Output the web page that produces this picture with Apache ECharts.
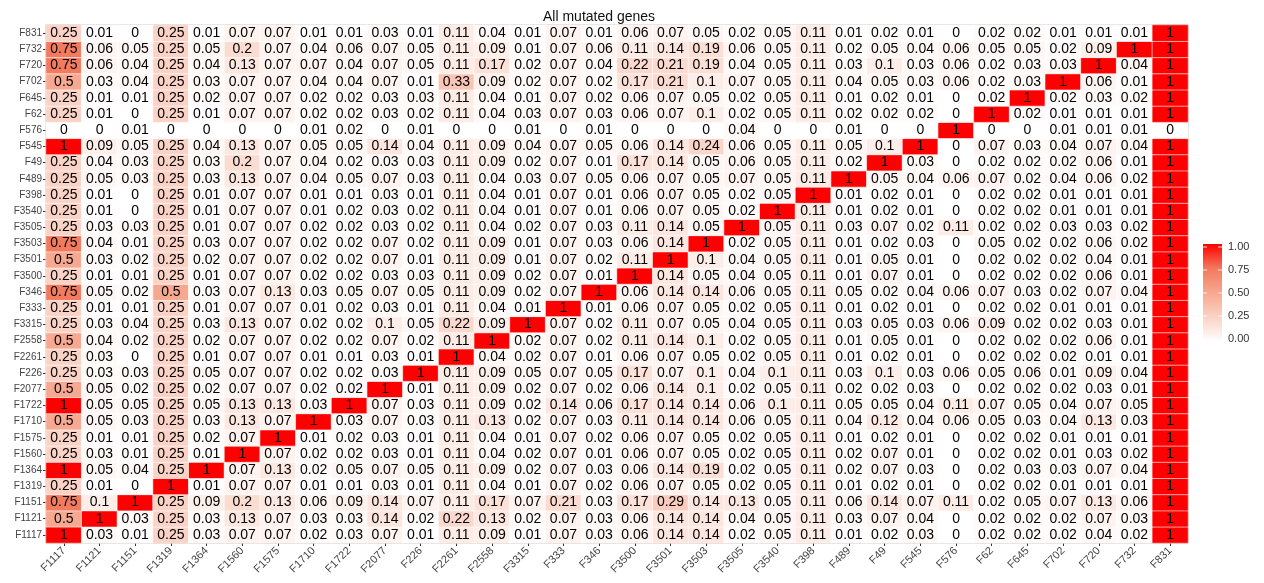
<!DOCTYPE html>
<html>
<head>
<meta charset="utf-8">
<script src="https://cdn.jsdelivr.net/npm/echarts@6/dist/echarts.min.js"></script>
<style>
html,body{margin:0;padding:0;background:#fff;}
#chart{width:1264px;height:583px;}
</style>
</head>
<body>
<div id="chart"></div>
<script>
// Column (x) categories, left to right
const xCats = ["F1117","F1121","F1151","F1319","F1364","F1560","F1575","F1710","F1722","F2077","F226","F2261","F2558","F3315","F333","F346","F3500","F3501","F3503","F3505","F3540","F398","F489","F49","F545","F576","F62","F645","F702","F720","F732","F831"];
// Row (y) categories, bottom to top
const yCats = xCats.slice();

// One array per row (values listed in xCats order)
const rowF831  = [0.25,0.01,0,0.25,0.01,0.07,0.07,0.01,0.01,0.03,0.01,0.11,0.04,0.01,0.07,0.01, 0.06,0.07,0.05,0.02,0.05,0.11,0.01,0.02,0.01,0,0.02,0.02,0.01,0.01,0.01,1];
const rowF732  = [0.75,0.06,0.05,0.25,0.05,0.2,0.07,0.04,0.06,0.07,0.05,0.11,0.09,0.01,0.07,0.06, 0.11,0.14,0.19,0.06,0.05,0.11,0.02,0.05,0.04,0.06,0.05,0.05,0.02,0.09,1,1];
const rowF720  = [0.75,0.06,0.04,0.25,0.04,0.13,0.07,0.07,0.04,0.07,0.05,0.11,0.17,0.02,0.07,0.04, 0.22,0.21,0.19,0.04,0.05,0.11,0.03,0.1,0.03,0.06,0.02,0.03,0.03,1,0.04,1];
const rowF702  = [0.5,0.03,0.04,0.25,0.03,0.07,0.07,0.04,0.04,0.07,0.01,0.33,0.09,0.02,0.07,0.02, 0.17,0.21,0.1,0.07,0.05,0.11,0.04,0.05,0.03,0.06,0.02,0.03,1,0.06,0.01,1];
const rowF645  = [0.25,0.01,0.01,0.25,0.02,0.07,0.07,0.02,0.02,0.03,0.03,0.11,0.04,0.01,0.07,0.02, 0.06,0.07,0.05,0.02,0.05,0.11,0.01,0.02,0.01,0,0.02,1,0.02,0.03,0.02,1];
const rowF62   = [0.25,0.01,0,0.25,0.01,0.07,0.07,0.02,0.02,0.03,0.02,0.11,0.04,0.03,0.07,0.03, 0.06,0.07,0.1,0.02,0.05,0.11,0.02,0.02,0.02,0,1,0.02,0.01,0.01,0.01,1];
const rowF576  = [0,0,0.01,0,0,0,0,0.01,0.02,0,0.01,0,0,0.01,0,0.01, 0,0,0,0.04,0,0,0.01,0,0,1,0,0,0.01,0.01,0.01,0];
const rowF545  = [1,0.09,0.05,0.25,0.04,0.13,0.07,0.05,0.05,0.14,0.04,0.11,0.09,0.04,0.07,0.05, 0.06,0.14,0.24,0.06,0.05,0.11,0.05,0.1,1,0,0.07,0.03,0.04,0.07,0.04,1];
const rowF49   = [0.25,0.04,0.03,0.25,0.03,0.2,0.07,0.04,0.02,0.03,0.03,0.11,0.09,0.02,0.07,0.01, 0.17,0.14,0.05,0.06,0.05,0.11,0.02,1,0.03,0,0.02,0.02,0.02,0.06,0.01,1];
const rowF489  = [0.25,0.05,0.03,0.25,0.03,0.13,0.07,0.04,0.05,0.07,0.03,0.11,0.04,0.03,0.07,0.05, 0.06,0.07,0.05,0.07,0.05,0.11,1,0.05,0.04,0.06,0.07,0.02,0.04,0.06,0.02,1];
const rowF398  = [0.25,0.01,0,0.25,0.01,0.07,0.07,0.01,0.01,0.03,0.01,0.11,0.04,0.01,0.07,0.01, 0.06,0.07,0.05,0.02,0.05,1,0.01,0.02,0.01,0,0.02,0.02,0.01,0.01,0.01,1];
const rowF3540 = [0.25,0.01,0,0.25,0.01,0.07,0.07,0.01,0.02,0.03,0.02,0.11,0.04,0.01,0.07,0.01, 0.06,0.07,0.05,0.02,1,0.11,0.01,0.02,0.01,0,0.02,0.02,0.01,0.01,0.01,1];
const rowF3505 = [0.25,0.03,0.03,0.25,0.01,0.07,0.07,0.02,0.02,0.03,0.02,0.11,0.04,0.02,0.07,0.03, 0.11,0.14,0.05,1,0.05,0.11,0.03,0.07,0.02,0.11,0.02,0.02,0.03,0.03,0.02,1];
const rowF3503 = [0.75,0.04,0.01,0.25,0.03,0.07,0.07,0.02,0.02,0.07,0.02,0.11,0.09,0.01,0.07,0.03, 0.06,0.14,1,0.02,0.05,0.11,0.01,0.02,0.03,0,0.05,0.02,0.02,0.06,0.02,1];
const rowF3501 = [0.5,0.03,0.02,0.25,0.02,0.07,0.07,0.02,0.02,0.07,0.01,0.11,0.09,0.01,0.07,0.02, 0.11,1,0.1,0.04,0.05,0.11,0.01,0.05,0.01,0,0.02,0.02,0.02,0.04,0.01,1];
const rowF3500 = [0.25,0.01,0.01,0.25,0.01,0.07,0.07,0.02,0.02,0.03,0.03,0.11,0.09,0.02,0.07,0.01, 1,0.14,0.05,0.04,0.05,0.11,0.01,0.07,0.01,0,0.02,0.02,0.02,0.06,0.01,1];
const rowF346  = [0.75,0.05,0.02,0.5,0.03,0.07,0.13,0.03,0.05,0.07,0.05,0.11,0.09,0.02,0.07,1, 0.06,0.14,0.14,0.06,0.05,0.11,0.05,0.02,0.04,0.06,0.07,0.03,0.02,0.07,0.04,1];
const rowF333  = [0.25,0.01,0.01,0.25,0.01,0.07,0.07,0.01,0.02,0.03,0.01,0.11,0.04,0.01,1,0.01, 0.06,0.07,0.05,0.02,0.05,0.11,0.01,0.02,0.01,0,0.02,0.02,0.01,0.01,0.01,1];
const rowF3315 = [0.25,0.03,0.04,0.25,0.03,0.13,0.07,0.02,0.02,0.1,0.05,0.22,0.09,1,0.07,0.02, 0.11,0.07,0.05,0.04,0.05,0.11,0.03,0.05,0.03,0.06,0.09,0.02,0.02,0.03,0.01,1];
const rowF2558 = [0.5,0.04,0.02,0.25,0.02,0.07,0.07,0.02,0.02,0.07,0.02,0.11,1,0.02,0.07,0.02, 0.11,0.14,0.1,0.02,0.05,0.11,0.01,0.05,0.01,0,0.02,0.02,0.02,0.06,0.01,1];
const rowF2261 = [0.25,0.03,0,0.25,0.01,0.07,0.07,0.01,0.01,0.03,0.01,1,0.04,0.02,0.07,0.01, 0.06,0.07,0.05,0.02,0.05,0.11,0.01,0.02,0.01,0,0.02,0.02,0.02,0.01,0.01,1];
const rowF226  = [0.25,0.03,0.03,0.25,0.05,0.07,0.07,0.02,0.02,0.03,1,0.11,0.09,0.05,0.07,0.05, 0.17,0.07,0.1,0.04,0.1,0.11,0.03,0.1,0.03,0.06,0.05,0.06,0.01,0.09,0.04,1];
const rowF2077 = [0.5,0.05,0.02,0.25,0.02,0.07,0.07,0.02,0.02,1,0.01,0.11,0.09,0.02,0.07,0.02, 0.06,0.14,0.1,0.02,0.05,0.11,0.02,0.02,0.03,0,0.02,0.02,0.02,0.03,0.01,1];
const rowF1722 = [1,0.05,0.05,0.25,0.05,0.13,0.13,0.03,1,0.07,0.03,0.11,0.09,0.02,0.14,0.06, 0.17,0.14,0.14,0.06,0.1,0.11,0.05,0.05,0.04,0.11,0.07,0.05,0.04,0.07,0.05,1];
const rowF1710 = [0.5,0.05,0.03,0.25,0.03,0.13,0.07,1,0.03,0.07,0.03,0.11,0.13,0.02,0.07,0.03, 0.11,0.14,0.14,0.06,0.05,0.11,0.04,0.12,0.04,0.06,0.05,0.03,0.04,0.13,0.03,1];
const rowF1575 = [0.25,0.01,0.01,0.25,0.02,0.07,1,0.01,0.02,0.03,0.01,0.11,0.04,0.01,0.07,0.02, 0.06,0.07,0.05,0.02,0.05,0.11,0.01,0.02,0.01,0,0.02,0.02,0.01,0.01,0.01,1];
const rowF1560 = [0.25,0.03,0.01,0.25,0.01,1,0.07,0.02,0.02,0.03,0.01,0.11,0.04,0.02,0.07,0.01, 0.06,0.07,0.05,0.02,0.05,0.11,0.02,0.07,0.01,0,0.02,0.02,0.01,0.03,0.02,1];
const rowF1364 = [1,0.05,0.04,0.25,1,0.07,0.13,0.02,0.05,0.07,0.05,0.11,0.09,0.02,0.07,0.03, 0.06,0.14,0.19,0.02,0.05,0.11,0.02,0.07,0.03,0,0.02,0.03,0.03,0.07,0.04,1];
const rowF1319 = [0.25,0.01,0,1,0.01,0.07,0.07,0.01,0.01,0.03,0.01,0.11,0.04,0.01,0.07,0.02, 0.06,0.07,0.05,0.02,0.05,0.11,0.01,0.02,0.01,0,0.02,0.02,0.01,0.01,0.01,1];
const rowF1151 = [0.75,0.1,1,0.25,0.09,0.2,0.13,0.06,0.09,0.14,0.07,0.11,0.17,0.07,0.21,0.03, 0.17,0.29,0.14,0.13,0.05,0.11,0.06,0.14,0.07,0.11,0.02,0.05,0.07,0.13,0.06,1];
const rowF1121 = [0.5,1,0.03,0.25,0.03,0.13,0.07,0.03,0.03,0.14,0.02,0.22,0.13,0.02,0.07,0.03, 0.06,0.14,0.14,0.04,0.05,0.11,0.03,0.07,0.04,0,0.02,0.02,0.02,0.07,0.03,1];
const rowF1117 = [1,0.03,0.01,0.25,0.03,0.07,0.07,0.02,0.03,0.07,0.01,0.11,0.09,0.01,0.07,0.03, 0.06,0.14,0.14,0.02,0.05,0.11,0.01,0.02,0.03,0,0.02,0.02,0.02,0.04,0.02,1];

// Rows in yCats order (bottom to top)
const rowList = [rowF1117,rowF1121,rowF1151,rowF1319,rowF1364,rowF1560,rowF1575,rowF1710,rowF1722,rowF2077,rowF226,rowF2261,rowF2558,rowF3315,rowF333,rowF346,rowF3500,rowF3501,rowF3503,rowF3505,rowF3540,rowF398,rowF489,rowF49,rowF545,rowF576,rowF62,rowF645,rowF702,rowF720,rowF732,rowF831];

const legendTicks = [1.00, 0.75, 0.50, 0.25, 0.00];
const rampColors = ['#ffffff', '#fad3c6', '#f7a890', '#f27a5e', '#ff0000'];

const data = [];
rowList.forEach((row, yi) => row.forEach((v, xi) => data.push([xi, yi, v])));

const chart = echarts.init(document.getElementById('chart'), null, {renderer: 'canvas'});

// colour bar legend geometry
const barLeft = 1203, barTop = 244, barW = 19, barH = 98;
const tickTop = barTop + 3, tickSpan = barH - 6;
const graphics = [{
  type: 'rect', shape: {x: barLeft, y: barTop, width: barW, height: barH},
  style: {fill: new echarts.graphic.LinearGradient(0, 1, 0, 0,
    rampColors.map((c, i) => ({offset: i / (rampColors.length - 1), color: c})))},
  z: 90
}];
legendTicks.forEach((t) => {
  const y = tickTop + (1 - t) * tickSpan;
  graphics.push({type:'text', x: barLeft + barW + 6, y: y, z: 100,
    style:{text: t.toFixed(2), fontSize: 11, fill:'#333', textVerticalAlign:'middle', verticalAlign:'middle', fontFamily:'Liberation Sans, Arial, sans-serif'}});
  graphics.push({type:'line', shape:{x1: barLeft, y1: y, x2: barLeft + 4, y2: y}, style:{stroke:'rgba(255,255,255,0.8)', lineWidth:1}, z: 100});
  graphics.push({type:'line', shape:{x1: barLeft + barW - 4, y1: y, x2: barLeft + barW, y2: y}, style:{stroke:'rgba(255,255,255,0.8)', lineWidth:1}, z: 100});
});

chart.setOption({
  backgroundColor: '#ffffff',
  animation: false,
  title: {
    text: 'All mutated genes',
    left: 538, top: 5,
    textStyle: {fontSize: 14, fontWeight: 'normal', color: '#111', fontFamily: 'Liberation Sans, Arial, sans-serif'}
  },
  grid: {left: 46, right: 76, top: 25, bottom: 40, show: true, borderColor: '#8a8a8a', borderWidth: 1, backgroundColor: '#fff'},
  xAxis: {
    type: 'category', data: xCats,
    axisLine: {show: false},
    axisTick: {show: true, length: 3, alignWithLabel: true, lineStyle: {color: '#333'}},
    axisLabel: {rotate: 45, fontSize: 11, color: '#444', margin: 6, interval: 0, fontFamily: 'Liberation Sans, Arial, sans-serif'},
    splitLine: {show: false}
  },
  yAxis: {
    type: 'category', data: yCats,
    axisLine: {show: false},
    axisTick: {show: true, length: 3, alignWithLabel: true, lineStyle: {color: '#333'}},
    axisLabel: {fontSize: 10, color: '#444', margin: 4, interval: 0, fontFamily: 'Liberation Sans, Arial, sans-serif'},
    splitLine: {show: false}
  },
  visualMap: {
    type: 'continuous', min: 0, max: 1, show: false,
    inRange: {color: rampColors}
  },
  graphic: graphics,
  series: [{
    type: 'heatmap',
    data: data,
    label: {
      show: true, fontSize: 14, color: '#000',
      fontFamily: 'Liberation Sans, Arial, sans-serif',
      formatter: (p) => String(p.value[2])
    },
    itemStyle: {borderColor: '#ffffff', borderWidth: 0.6},
    emphasis: {disabled: true}
  }]
});
</script>
</body>
</html>
